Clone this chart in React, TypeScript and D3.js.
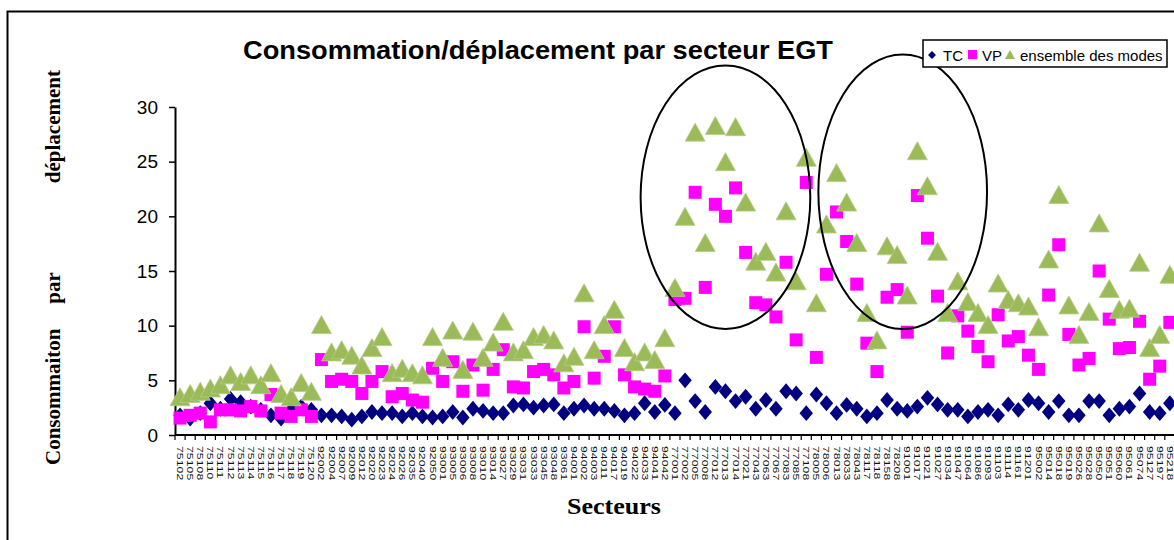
import React, { useRef, useEffect } from 'react';
import * as d3 from 'd3';

// Sector codes (EGT), one per category on the x axis
const sectors75: string[] = ['75102', '75105', '75108', '75110', '75111', '75112', '75113', '75114', '75115', '75116', '75117', '75118', '75119', '75120'];
const sectors92: string[] = ['92002', '92004', '92007', '92009', '92012', '92020', '92023', '92024', '92026', '92035', '92040', '92050'];
const sectors93: string[] = ['93001', '93005', '93006', '93008', '93010', '93014', '93027', '93029', '93031', '93033', '93045', '93048', '93061'];
const sectors94: string[] = ['94001', '94002', '94003', '94011', '94017', '94019', '94022', '94033', '94041', '94042'];
const sectors77: string[] = ['77001', '77002', '77005', '77008', '77012', '77013', '77014', '77021', '77043', '77063', '77067', '77083', '77085', '77108'];
const sectors78: string[] = ['78005', '78006', '78013', '78033', '78043', '78117', '78118', '78158', '78208'];
const sectors91: string[] = ['91001', '91017', '91021', '91027', '91034', '91047', '91064', '91086', '91093', '91103', '91114', '91161', '91201'];
const sectors95: string[] = ['95002', '95014', '95018', '95019', '95026', '95028', '95050', '95051', '95060', '95061', '95074', '95127', '95197', '95218'];
const sectors: string[] = [...sectors75, ...sectors92, ...sectors93, ...sectors94, ...sectors77, ...sectors78, ...sectors91, ...sectors95];

// TC (transports en commun)
const tcValues: number[] = [
  1.8, 1.5, 2.0, 2.9, 2.4, 3.3, 3.0, 2.6, 2.3, 1.8, 1.5, 2.3, 2.6, 2.3,
  1.8, 1.8, 1.7, 1.4, 1.7, 2.1, 2.0,
  2.0, 1.7, 2.0, 1.7, 1.6, 1.7, 2.1, 1.6, 2.4, 2.2, 2.0, 2.0, 2.7, 2.8, 2.5, 2.7, 2.8, 2.0, 2.4, 2.7, 2.4, 2.4, 2.2, 1.8, 2.0, 2.9,
  2.1, 2.75, 2.0, 5.0, 3.1, 2.1, 4.4, 4.0, 3.1, 3.5, 2.4, 3.2, 2.4, 4.0, 3.8, 2.0, 3.7, 2.9, 2.0, 2.75, 2.4, 1.7, 2.0, 3.2, 2.4, 2.2,
  2.6, 3.4, 2.8, 2.3, 2.3, 1.7, 2.1, 2.3, 1.8, 2.8, 2.3, 3.2, 2.9, 2.1, 3.1, 1.8, 1.8, 3.1, 3.1, 1.8, 2.4, 2.6, 3.8, 2.1, 2.0, 2.9,
];

// VP (voiture particulière)
const vpValues: number[] = [
  1.55, 1.8, 2.0, 1.2, 2.3, 2.3, 2.2, 2.6, 2.2, 3.7, 2.0, 1.7, 2.3, 1.7,
  6.9, 4.9, 5.1, 4.9, 3.8, 4.9, 5.8,
  3.5, 3.8, 3.2, 3.0, 6.1, 4.9, 6.7, 4.0, 6.4, 4.1, 6.0, 7.8, 4.4, 4.3, 5.8, 6.0, 5.5, 4.3, 4.9, 9.9, 5.2, 7.2, 9.9, 5.5, 4.4, 4.2,
  4.0, 5.4, 12.4, 12.5, 22.2, 13.5, 21.1, 20.0, 22.6, 16.7, 12.1, 11.9, 10.8, 15.8, 8.7, 23.1, 7.1, 14.7, 20.4, 17.7, 13.8, 8.4, 5.8, 12.6, 13.3, 9.4,
  21.9, 18.0, 12.7, 7.5, 10.9, 9.5, 8.1, 6.7, 11.0, 8.6, 9.0, 7.3, 6.0, 12.8, 17.4, 9.2, 6.4, 7.0, 15.0, 10.6, 7.9, 8.0, 10.4, 5.1, 6.3, 10.3,
];

// ensemble des modes
const allModesValues: number[] = [
  3.5, 3.8, 4.0, 4.3, 4.6, 5.5, 4.9, 5.5, 4.6, 5.7, 3.8, 3.5, 4.8, 4.0,
  10.1, 7.6, 7.8, 7.3, 6.4, 8.0, 9.0,
  5.7, 6.1, 5.7, 5.5, 9.0, 7.1, 9.6, 6.0, 9.5, 7.1, 8.5, 10.4, 7.6, 7.8, 9.0, 9.2, 8.7, 6.6, 7.2, 13.0, 7.8, 10.1, 11.5, 8.0, 6.7, 7.6,
  6.9, 8.9, 13.5, 20.0, 27.7, 17.6, 28.3, 25.0, 28.2, 21.3, 15.9, 16.8, 14.9, 20.5, 14.1, 25.4, 12.1, 19.3, 24.0, 21.3, 17.6, 11.2, 8.7, 17.3, 16.5, 12.8,
  26.0, 22.8, 16.8, 11.2, 14.1, 12.2, 11.2, 10.1, 13.9, 12.4, 12.1, 11.8, 9.9, 16.1, 22.0, 11.9, 9.2, 11.3, 19.4, 13.4, 11.5, 11.6, 15.8, 8.0, 9.2, 14.7,
];

const yTicks: number[] = [0, 5, 10, 15, 20, 25, 30];

// hand-drawn ellipses: [first category pos, last category pos, low value, high value]
const highlightZones: [number, number, number, number][] = [
  [46.1, 62.9, 9.7, 33.8],
  [63.7, 80.4, 9.7, 34.8],
];

const NAVY = '#000080';
const MAGENTA = '#FF00FF';
const OLIVE = '#9BBB59';
const SANS = '"Liberation Sans", Arial, sans-serif';
const SERIF = '"Liberation Serif", "Times New Roman", serif';

export default function App() {
  const ref = useRef<SVGSVGElement | null>(null);
  const width = 1174;
  const height = 540;

  useEffect(() => {
    if (!ref.current) return;
    const svg = d3.select(ref.current);
    svg.selectAll('*').remove();

    const left = 175;
    const step = 10.1;
    const x = d3.scaleBand<string>()
      .domain(sectors)
      .range([left, left + step * sectors.length])
      .padding(0);
    const y = d3.scaleLinear().domain([0, 30]).range([435, 107]);
    const cx = (d: string) => (x(d) ?? 0) + x.bandwidth() / 2;

    svg.append('rect').attr('width', width).attr('height', height).attr('fill', '#fff');

    // chart frame
    svg.append('rect')
      .attr('x', 7.5).attr('y', 11.5)
      .attr('width', 1300).attr('height', 700)
      .attr('fill', 'none').attr('stroke', '#000').attr('stroke-width', 2);

    // title
    svg.append('text')
      .attr('x', 243).attr('y', 59)
      .attr('textLength', 590).attr('lengthAdjust', 'spacingAndGlyphs')
      .attr('font-family', SANS).attr('font-weight', 'bold').attr('font-size', 25)
      .text('Consommation/déplacement par secteur EGT');

    // y axis
    const yAxis = svg.append('g').attr('transform', `translate(${left},0)`)
      .call(d3.axisLeft(y).tickValues(yTicks).tickSize(6).tickPadding(11).tickSizeOuter(0));
    yAxis.select('.domain').attr('stroke', '#000').attr('stroke-width', 2);
    yAxis.selectAll('.tick line').attr('stroke', '#000').attr('stroke-width', 1.5);
    yAxis.selectAll('.tick text')
      .attr('font-family', SANS).attr('font-size', 19).attr('fill', '#000');

    // x axis line + category boundary ticks
    const xAxis = svg.append('g');
    xAxis.append('line')
      .attr('x1', left).attr('x2', width + 5)
      .attr('y1', y(0)).attr('y2', y(0))
      .attr('stroke', '#000').attr('stroke-width', 2);
    xAxis.selectAll('line.tick')
      .data(sectors)
      .join('line')
      .attr('class', 'tick')
      .attr('x1', (d) => x(d) ?? 0).attr('x2', (d) => x(d) ?? 0)
      .attr('y1', y(0)).attr('y2', y(0) + 5)
      .attr('stroke', '#000').attr('stroke-width', 1.2);
    xAxis.selectAll('text.lab')
      .data(sectors)
      .join('text')
      .attr('class', 'lab')
      .attr('transform', (d) => `translate(${cx(d)},${y(0) + 11}) rotate(90) scale(1.45,1)`)
      .attr('dy', '0.35em')
      .attr('font-family', SANS).attr('font-size', 8.5)
      .attr('fill', '#111')
      .text((d) => d);

    // axis titles
    svg.append('text')
      .attr('x', 567).attr('y', 514)
      .attr('textLength', 94).attr('lengthAdjust', 'spacingAndGlyphs')
      .attr('font-family', SERIF).attr('font-weight', 'bold').attr('font-size', 24)
      .text('Secteurs');

    const yTitle = svg.append('g').attr('transform', 'translate(60,0) rotate(-90)')
      .attr('font-family', SERIF).attr('font-weight', 'bold').attr('font-size', 21);
    yTitle.append('text').attr('x', -465).attr('text-anchor', 'start').text('Consommaiton');
    yTitle.append('text').attr('x', -288).attr('text-anchor', 'middle').text('par');
    yTitle.append('text').attr('x', -70).attr('text-anchor', 'end').text('déplacement');

    // series markers
    const plot = svg.append('g');
    const diamond = d3.symbol().type(d3.symbolDiamond2).size(160);
    plot.selectAll('path.tc')
      .data(tcValues)
      .join('path')
      .attr('class', 'tc')
      .attr('d', diamond)
      .attr('transform', (v, i) => `translate(${cx(sectors[i])},${y(v)}) scale(0.85,1)`)
      .attr('fill', NAVY);

    plot.selectAll('rect.vp')
      .data(vpValues)
      .join('rect')
      .attr('class', 'vp')
      .attr('x', (v, i) => cx(sectors[i]) - 6.5)
      .attr('y', (v) => y(v) - 6.5)
      .attr('width', 13).attr('height', 13)
      .attr('fill', MAGENTA);

    const tri = (v: number, i: number) => {
      const px = cx(sectors[i]);
      const py = y(v);
      return `M${px},${py - 9}L${px + 10},${py + 9}L${px - 10},${py + 9}Z`;
    };
    plot.selectAll('path.all')
      .data(allModesValues)
      .join('path')
      .attr('class', 'all')
      .attr('d', (v, i) => tri(v, i))
      .attr('fill', OLIVE)
      .attr('stroke', '#B5CC88').attr('stroke-width', 0.8);

    // highlight ellipses
    svg.selectAll('ellipse.zone')
      .data(highlightZones)
      .join('ellipse')
      .attr('class', 'zone')
      .attr('cx', (z) => left + ((z[0] + z[1]) / 2) * step)
      .attr('cy', (z) => (y(z[2]) + y(z[3])) / 2)
      .attr('rx', (z) => ((z[1] - z[0]) / 2) * step)
      .attr('ry', (z) => (y(z[2]) - y(z[3])) / 2)
      .attr('fill', 'none').attr('stroke', '#000').attr('stroke-width', 2);

    // legend
    const lg = svg.append('g');
    lg.append('rect')
      .attr('x', 923).attr('y', 40).attr('width', 244).attr('height', 27)
      .attr('fill', '#fff').attr('stroke', '#000').attr('stroke-width', 1.5);
    lg.append('path')
      .attr('d', d3.symbol().type(d3.symbolDiamond2).size(40))
      .attr('transform', 'translate(932,55)')
      .attr('fill', NAVY);
    lg.append('text').attr('x', 943).attr('y', 61).text('TC');
    lg.append('rect').attr('x', 968).attr('y', 50).attr('width', 9).attr('height', 9).attr('fill', MAGENTA);
    lg.append('text').attr('x', 982).attr('y', 61).text('VP');
    lg.append('path').attr('d', 'M1010,50L1015,59L1005,59Z').attr('fill', OLIVE);
    lg.append('text').attr('x', 1020).attr('y', 61).text('ensemble des modes');
    lg.selectAll('text').attr('font-family', SANS).attr('font-size', 15).attr('fill', '#000');
  }, []);

  return (
    <div style={{ position: 'fixed', left: 0, top: 0 }}>
      <svg ref={ref} width={width} height={height} style={{ display: 'block' }} aria-label="Consommation par déplacement" />
    </div>
  );
}
